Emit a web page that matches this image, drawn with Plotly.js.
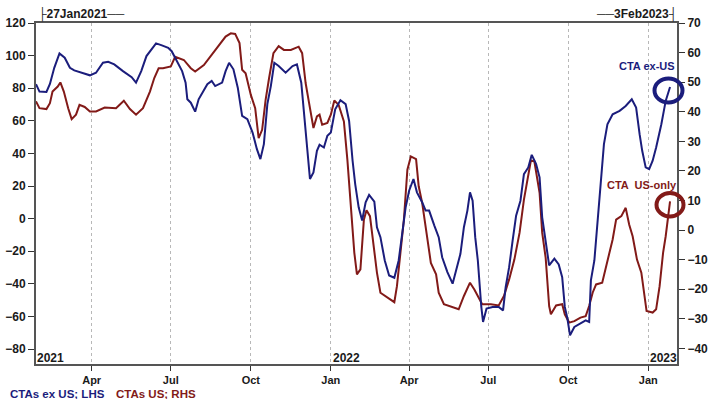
<!DOCTYPE html>
<html>
<head>
<meta charset="utf-8">
<script src="https://cdn.plot.ly/plotly-3.0.1.min.js"></script>
<style>html,body{margin:0;padding:0;background:#fff}#chart{width:720px;height:399px}</style>
</head>
<body>
<div id="chart"></div>
<script>
// Day offsets from 27 Jan 2021
const startDate = '2021-01-27';
const endDate = '2023-02-03';

const exUsDays = [0,4,12,16,21,27,33,39,44,52,62,69,77,83,90,100,110,115,121,127,133,138,144,152,156,162,168,172,174,178,183,187,193,197,202,206,214,218,222,227,232,237,243,249,254,258,262,266,270,274,279,287,295,300,305,308,311,315,319,323,326,331,335,339,344,350,356,360,364,367,371,375,379,383,389,392,396,401,406,412,417,421,425,429,434,438,444,448,452,458,463,467,473,479,484,488,492,496,499,502,505,508,512,514,518,525,532,537,540,544,548,552,557,561,566,570,575,579,582,586,590,596,601,605,608,611,614,619,626,632,636,638,642,646,650,653,657,663,671,678,685,690,694,697,701,705,709,713,719,724,729];
const exUsValues = [82.4,77.9,77.7,82.6,92.5,101.3,98.7,92.5,90.9,89.5,87.9,89.5,95.6,96.2,94.6,90.5,86.8,83.4,90.5,99.7,103.8,107.5,106.4,104.8,102.7,96.6,90.5,83.4,73.2,71.1,65.6,73.2,78.3,82.4,84.4,81.3,83.4,90.5,95.6,91.6,80.3,63.0,61.0,52.8,42.6,36.5,45.7,70.2,81.3,95.6,93.6,89.5,93.6,94.6,83.4,66.1,47.7,24.3,28.3,41.6,45.3,43.6,50.8,52.8,67.1,72.6,70.2,59.9,35.5,21.2,6.9,-1.2,10.0,14.5,10.4,-5.3,-11.4,-25.7,-34.9,-36.3,-25.7,-9.4,6.9,17.1,24.3,16.1,10.0,4.9,4.9,-4.3,-11.4,-23.7,-32.8,-39.9,-29.8,-21.6,-5.3,4.9,16.1,11.0,-11.4,-25.7,-54.2,-63.4,-55.2,-54.2,-54.2,-56.3,-42.0,-29.8,-13.5,1.8,11.0,27.3,31.4,39.1,33.5,25.3,0.8,-13.5,-28.7,-24.6,-28.1,-35.9,-54.2,-61.3,-71.6,-66.5,-64.4,-62.4,-63.4,-37.9,-25.7,-1.2,25.3,45.7,57.9,64.0,66.1,69.1,73.2,68.1,51.8,41.6,31.4,30.4,35.5,43.6,57.9,72.2,80.7];

const usDays = [0,4,12,16,19,25,28,32,37,41,46,50,56,62,69,79,92,101,108,115,123,131,136,141,146,155,160,170,178,183,193,202,210,218,224,229,234,237,241,247,252,256,260,264,268,273,279,285,293,298,302,306,310,314,319,323,326,329,335,339,343,348,354,358,362,366,369,373,377,380,384,388,392,396,404,412,415,419,423,427,431,437,440,444,448,454,460,463,469,477,486,492,499,504,508,513,523,532,538,544,550,556,561,566,569,573,579,582,586,590,592,598,605,608,613,619,626,632,636,640,644,651,657,663,667,673,678,682,686,691,696,699,702,709,713,717,721,724,729];
const usValues = [43.5,41.2,40.9,42.9,46.8,48.5,49.9,46.8,41.2,37.5,39.0,42.3,41.6,40.1,40.1,41.4,41.2,43.7,40.9,39.0,41.2,46.8,51.4,54.7,54.7,55.3,58.6,57.5,54.7,53.6,55.8,59.2,62.0,65.4,66.5,66.3,63.2,54.2,53.0,45.7,41.2,31.1,33.9,44.0,51.4,59.8,62.2,60.9,60.9,61.5,62.0,59.8,49.7,42.9,34.5,38.4,39.0,35.6,36.2,39.0,43.8,42.3,36.7,23.8,8.0,-7.7,-15.0,-13.3,3.5,6.7,4.7,-4.3,-14.4,-21.2,-22.9,-24.4,-19.0,-7.7,3.5,20.4,24.9,24.0,14.8,9.2,1.3,-11.1,-15.0,-21.2,-25.1,-25.9,-26.8,-22.3,-17.8,-20.1,-22.3,-25.1,-25.1,-25.5,-22.3,-16.7,-10.0,-0.9,10.3,19.3,23.5,23.2,12.6,-0.9,-9.4,-25.7,-28.5,-25.5,-25.1,-28.5,-31.3,-30.8,-29.6,-29.1,-25.7,-21.2,-18.4,-17.8,-10.0,-3.2,3.5,4.7,7.5,1.9,-2.1,-10.0,-14.4,-21.2,-27.4,-27.9,-26.8,-19.0,-7.7,-2.1,9.7];

const xTickVals = ['2021-04-01','2021-07-01','2021-10-01','2022-01-01','2022-04-01','2022-07-01','2022-10-01','2023-01-01'];
const xTickText = ['Apr','Jul','Oct','Jan','Apr','Jul','Oct','Jan'];
const yearLabels = ['2021','2022','2023'];
const yearDates = ['2021-01-27','2022-01-01','2023-01-01'];
const leftTicks = [-80,-60,-40,-20,0,20,40,60,80,100,120];
const rightTicks = [-40,-30,-20,-10,0,10,20,30,40,50,60,70];

const t0 = Date.parse(startDate + 'T00:00:00Z');
const toDate = d => new Date(t0 + d * 86400000).toISOString().slice(0, 10);

const NAVY = '#1b1d7c';
const DARKRED = '#821a18';
const FONT = 'Liberation Sans, Arial, sans-serif';
const tickFont = {family: FONT, size: 12, color: '#1a1a1a', weight: 'bold'};
const xTickFont = {family: FONT, size: 11, color: '#1a1a1a', weight: 'bold'};

const traces = [
  {x: usDays.map(toDate), y: usValues, type: 'scatter', mode: 'lines', name: 'CTAs US; RHS',
   line: {color: DARKRED, width: 2}, yaxis: 'y', hoverinfo: 'skip'},
  {x: exUsDays.map(toDate), y: exUsValues, type: 'scatter', mode: 'lines', name: 'CTAs ex US; LHS',
   line: {color: NAVY, width: 2}, yaxis: 'y2', hoverinfo: 'skip'}
];

const px = p => (p - 36) / 641;
const py = p => (364 - p) / 341;

const annotations = [
  {text: '├27Jan2021──', xref: 'paper', yref: 'paper', x: 0, y: py(14), xanchor: 'left', yanchor: 'middle', showarrow: false,
   font: {family: FONT, size: 12, color: '#1a1a1a', weight: 'bold'}},
  {text: '──3Feb2023┤', xref: 'paper', yref: 'paper', x: px(679), y: py(14), xanchor: 'right', yanchor: 'middle', showarrow: false,
   font: {family: FONT, size: 12, color: '#1a1a1a', weight: 'bold'}},
  {text: 'CTA ex-US', xref: 'paper', yref: 'paper', x: px(646.5), y: py(66), xanchor: 'center', yanchor: 'middle', showarrow: false,
   font: {family: FONT, size: 11, color: NAVY, weight: 'bold'}},
  {text: 'CTA  US-only', xref: 'paper', yref: 'paper', x: px(641.5), y: py(185), xanchor: 'center', yanchor: 'middle', showarrow: false,
   font: {family: FONT, size: 11, color: DARKRED, weight: 'bold'}},
  {text: 'CTAs ex US; LHS', xref: 'paper', yref: 'paper', x: px(9), y: py(393.5), xanchor: 'left', yanchor: 'middle', showarrow: false,
   borderpad: 0, font: {family: FONT, size: 11.5, color: NAVY, weight: 'bold'}},
  {text: 'CTAs US; RHS', xref: 'paper', yref: 'paper', x: px(115), y: py(393.5), xanchor: 'left', yanchor: 'middle', showarrow: false,
   borderpad: 0, font: {family: FONT, size: 11.5, color: DARKRED, weight: 'bold'}}
];
yearLabels.forEach((t, i) => {
  annotations.push({text: t, xref: 'x', yref: 'paper', x: yearDates[i], y: py(357.5), xanchor: 'left', yanchor: 'middle',
    xshift: i === 0 ? -1 : 0, showarrow: false, font: {family: FONT, size: 12, color: '#1a1a1a', weight: 'bold'}});
});

const shapes = [
  {type: 'circle', xref: 'paper', yref: 'paper', x0: px(654.5), x1: px(682.5), y0: py(102.5), y1: py(78.5),
   line: {color: NAVY, width: 4}},
  {type: 'circle', xref: 'paper', yref: 'paper', x0: px(656.5), x1: px(683.5), y0: py(216.5), y1: py(193),
   line: {color: DARKRED, width: 4}}
];

const layout = {
  width: 720, height: 399,
  margin: {l: 36, r: 43, t: 23, b: 35},
  paper_bgcolor: '#ffffff', plot_bgcolor: '#ffffff',
  showlegend: false,
  font: {family: FONT},
  xaxis: {
    type: 'date', range: [startDate, endDate],
    tickvals: xTickVals, ticktext: xTickText, tickfont: xTickFont,
    ticks: 'outside', ticklen: 5, tickwidth: 1, tickcolor: '#333', ticklabelstandoff: 0,
    showgrid: true, gridcolor: '#b8b8b8', gridwidth: 1, griddash: '3px,3px',
    showline: true, linecolor: '#555', linewidth: 2, mirror: true, zeroline: false
  },
  yaxis: {
    side: 'right', range: [-45.3, 70], tickvals: rightTicks, tickfont: tickFont,
    ticks: 'outside', ticklen: 6, tickcolor: '#333',
    showgrid: false, zeroline: false, showline: true, linecolor: '#555', linewidth: 2
  },
  yaxis2: {
    overlaying: 'y', side: 'left', range: [-89.2, 120], tickvals: leftTicks, tickfont: tickFont,
    ticks: 'outside', ticklen: 6, tickcolor: '#333',
    showgrid: false, zeroline: false, showline: true, linecolor: '#555', linewidth: 2
  },
  annotations: annotations,
  shapes: shapes
};

Plotly.newPlot('chart', traces, layout, {staticPlot: true, displayModeBar: false});
</script>
</body>
</html>
